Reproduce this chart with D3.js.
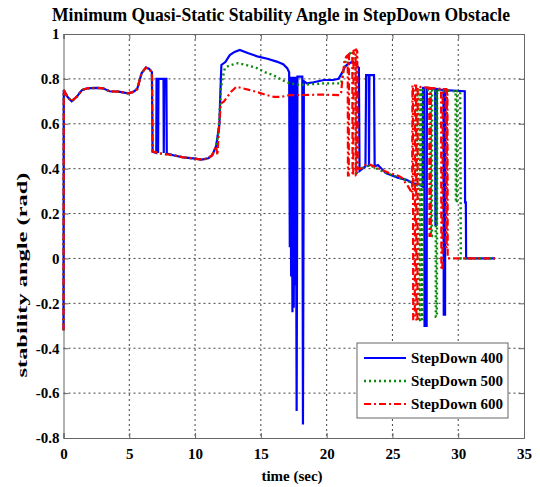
<!DOCTYPE html>
<html><head><meta charset="utf-8">
<script src="https://cdn.jsdelivr.net/npm/d3@7"></script>
<style>
html,body{margin:0;padding:0;background:#fff;}
svg text{font-family:"Liberation Serif","DejaVu Serif",serif;font-weight:bold;fill:#000;}
</style></head>
<body><svg id="c" width="540" height="487"></svg>
<script>
const xTicks = [0,5,10,15,20,25,30,35];
const yTicks = [-0.8,-0.6,-0.4,-0.2,0,0.2,0.4,0.6,0.8,1];
const yTickLabels = ["-0.8","-0.6","-0.4","-0.2","0","0.2","0.4","0.6","0.8","1"];
const seriesNames = ["StepDown 400","StepDown 500","StepDown 600"];

const blueT = [0,0.02,0.3,0.62,1.0,1.4,1.8,2.5,3.0,3.5,4.2,4.9,5.3,5.6,5.94,6.26,6.5,6.72,6.77,7.05,7.07,7.17,7.19,7.22,7.6,7.62,7.66,7.82,7.85,8.34,9.1,9.86,10.5,11.0,11.3,11.6,11.85,11.93,12.0,12.3,12.64,13.0,13.4,14.0,14.8,15.5,16.2,16.7,17.0,17.15,17.2,17.25,17.3,17.35,17.4,17.45,17.5,17.55,17.6,17.65,17.72,17.78,18.15,18.2,18.27,18.5,19.0,19.8,20.5,20.9,21.2,21.4,21.7,22.0,22.25,22.45,22.5,22.6,22.95,23.0,23.2,23.22,23.25,23.6,23.65,23.9,24.5,25.4,26.06,26.56,27.0,27.3,27.32,27.42,27.44,27.6,27.62,28.25,28.27,28.35,28.37,28.88,28.9,29.0,29.02,30.5,30.52,30.58,30.6,32.8];
const blueV = [-0.32,0.75,0.72,0.70,0.72,0.75,0.758,0.76,0.758,0.745,0.743,0.736,0.742,0.755,0.826,0.85,0.845,0.83,0.476,0.47,0.80,0.80,0.47,0.80,0.80,0.47,0.80,0.80,0.467,0.46,0.45,0.446,0.44,0.446,0.46,0.50,0.60,0.75,0.862,0.875,0.906,0.92,0.929,0.915,0.899,0.89,0.877,0.865,0.848,0.83,0.05,0.81,-0.08,0.81,-0.24,0.81,-0.22,0.81,-0.12,0.81,-0.68,0.81,0.81,-0.74,0.79,0.78,0.785,0.795,0.795,0.80,0.83,0.855,0.87,0.877,0.86,0.85,0.39,0.395,0.41,0.817,0.817,0.41,0.817,0.817,0.41,0.416,0.38,0.36,0.35,0.335,0.33,0.32,0.76,0.76,-0.30,-0.30,0.76,0.755,0.15,0.15,0.755,0.75,-0.25,-0.25,0.75,0.745,0.25,0.25,0.0,0.0];

const greenT = [0,0.02,0.3,0.62,1.0,1.4,1.8,2.5,3.0,3.5,4.2,4.9,5.3,5.6,5.94,6.26,6.5,6.72,6.77,7.35,8.34,9.1,9.86,10.5,11.0,11.3,11.6,11.75,11.85,11.95,12.05,12.26,12.6,13.27,14.0,14.7,15.3,15.93,16.6,17.2,17.97,18.5,19.8,21.1,21.3,21.5,21.8,22.0,22.2,22.25,22.35,22.6,23.0,23.3,24.0,24.8,25.5,26.2,26.6,26.85,26.9,26.98,27.0,27.1,27.12,27.2,27.22,27.28,27.3,27.9,27.92,28.0,28.02,28.28,28.3,28.38,28.4,29.8,29.82,29.9,29.92,30.15,30.2,32.8];
const greenV = [-0.32,0.75,0.72,0.70,0.72,0.75,0.758,0.76,0.758,0.745,0.743,0.736,0.742,0.755,0.826,0.85,0.845,0.83,0.476,0.468,0.46,0.45,0.446,0.44,0.446,0.46,0.50,0.55,0.62,0.75,0.79,0.847,0.86,0.87,0.86,0.848,0.83,0.817,0.795,0.78,0.773,0.775,0.78,0.78,0.84,0.895,0.915,0.92,0.90,0.37,0.40,0.40,0.41,0.415,0.395,0.375,0.36,0.345,0.33,0.32,0.75,0.75,-0.28,-0.28,0.75,0.75,-0.27,-0.27,0.75,0.75,0.10,0.10,0.75,0.75,-0.26,-0.26,0.75,0.745,0.25,0.25,0.745,0.745,0.0,0.0];

const redT = [0,0.02,0.3,0.62,1.0,1.4,1.8,2.5,3.0,3.5,4.2,4.9,5.3,5.6,5.94,6.26,6.5,6.72,6.77,7.35,8.34,9.1,9.86,10.5,11.0,11.3,11.6,11.7,11.8,11.95,12.2,12.74,13.15,13.5,14.18,14.8,15.43,16.0,16.57,17.2,18.0,19.5,21.0,21.1,21.2,21.35,21.5,21.6,21.62,21.68,21.7,21.95,21.97,22.02,22.04,22.2,22.22,22.27,22.29,22.33,22.36,22.6,23.0,23.3,24.0,24.8,25.4,25.7,26.2,26.5,26.52,26.56,26.58,26.7,26.72,26.8,26.82,26.9,26.92,27.8,27.82,27.9,27.92,28.7,28.72,28.8,28.82,29.05,29.07,29.12,29.14,29.18,29.2,32.8];
const redV = [-0.32,0.75,0.72,0.70,0.72,0.75,0.758,0.76,0.758,0.745,0.743,0.736,0.742,0.755,0.826,0.85,0.845,0.83,0.476,0.468,0.46,0.45,0.446,0.44,0.446,0.46,0.50,0.46,0.56,0.69,0.70,0.743,0.765,0.76,0.75,0.74,0.728,0.72,0.72,0.728,0.728,0.73,0.728,0.74,0.80,0.88,0.90,0.905,0.37,0.37,0.91,0.92,0.37,0.37,0.925,0.93,0.37,0.37,0.93,0.92,0.40,0.40,0.42,0.418,0.40,0.38,0.37,0.36,0.32,0.29,0.77,0.77,-0.27,-0.27,0.77,0.77,-0.28,-0.28,0.765,0.76,0.10,0.10,0.76,0.755,-0.05,-0.05,0.755,0.755,0.05,0.05,0.755,0.75,0.0,0.0];

const svg = d3.select("#c");
const L = 63.5, R = 524, T = 34, B = 438;
const x = d3.scaleLinear().domain([0,35]).range([L,R]);
const y = d3.scaleLinear().domain([-0.8,1]).range([B,T]);

// grid
const grid = svg.append("g");
grid.selectAll(".gx").data(xTicks.slice(1,-1)).join("line")
  .attr("x1",d=>x(d)).attr("x2",d=>x(d)).attr("y1",T).attr("y2",B)
  .attr("stroke","#444").attr("stroke-width",1).attr("stroke-dasharray","2,3");
grid.selectAll(".gy").data(yTicks.slice(1,-1)).join("line")
  .attr("x1",L).attr("x2",R).attr("y1",d=>y(d)).attr("y2",d=>y(d))
  .attr("stroke","#444").attr("stroke-width",1).attr("stroke-dasharray","2,3");

// axes
svg.append("g").attr("transform",`translate(0,${B})`)
  .call(d3.axisBottom(x).tickValues(xTicks).tickSize(-5).tickPadding(10).tickFormat(d3.format("d")));
svg.append("g").attr("transform",`translate(${L},0)`)
  .call(d3.axisLeft(y).tickValues(yTicks).tickSize(-5).tickPadding(4).tickFormat((d,i)=>yTickLabels[i]));
svg.append("g").attr("transform",`translate(0,${T})`)
  .call(d3.axisTop(x).tickValues(xTicks).tickSize(-5).tickFormat(""));
svg.append("g").attr("transform",`translate(${R},0)`)
  .call(d3.axisRight(y).tickValues(yTicks).tickSize(-5).tickFormat(""));
svg.selectAll(".domain").attr("stroke","#666");
svg.selectAll(".tick line").attr("stroke","#666");
svg.selectAll(".tick text").style("font-size","15px").style("font-family","'Liberation Serif',serif").style("font-weight","bold").attr("fill","#000");

// lines
const line = d3.line().x(d=>x(d[0])).y(d=>y(d[1]));
const mk = (ts,vs)=>ts.map((t,i)=>[t,vs[i]]);
const series = [
  {name:seriesNames[0], data:mk(blueT,blueV), color:"#0000ff", dash:null, w:2.2},
  {name:seriesNames[1], data:mk(greenT,greenV), color:"#0a8a0a", dash:"2,3", w:2.4},
  {name:seriesNames[2], data:mk(redT,redV), color:"#ff0000", dash:"7,3,2,3", w:2.2}
];
svg.append("g").selectAll("path").data(series).join("path")
  .attr("d",d=>line(d.data)).attr("fill","none")
  .attr("stroke",d=>d.color).attr("stroke-width",d=>d.w)
  .attr("stroke-dasharray",d=>d.dash);

// title
svg.append("text").attr("x",281).attr("y",21).attr("text-anchor","middle")
  .style("font-size","18px").attr("textLength",458).attr("lengthAdjust","spacingAndGlyphs")
  .text("Minimum Quasi-Static Stability Angle in StepDown Obstacle");
// axis labels
svg.append("text").attr("x",292).attr("y",481).attr("text-anchor","middle")
  .style("font-size","15px").text("time (sec)");
svg.append("text").attr("transform","translate(27,275) rotate(-90)").attr("text-anchor","middle")
  .style("font-size","15px").attr("textLength",205).attr("lengthAdjust","spacingAndGlyphs")
  .text("stability angle (rad)");

// legend
const lg = svg.append("g");
lg.append("rect").attr("x",357).attr("y",343).attr("width",151).attr("height",75)
  .attr("fill","#fff").attr("stroke","#666").attr("stroke-width",1);
const rows = lg.selectAll("g.r").data(series).join("g").attr("transform",(d,i)=>`translate(0,${358+i*23})`);
rows.append("line").attr("x1",364).attr("x2",406).attr("y1",0).attr("y2",0)
  .attr("stroke",d=>d.color).attr("stroke-width",d=>d.w).attr("stroke-dasharray",d=>d.dash);
rows.append("text").attr("x",411).attr("y",5).style("font-size","15px").text(d=>d.name);
</script></body></html>
